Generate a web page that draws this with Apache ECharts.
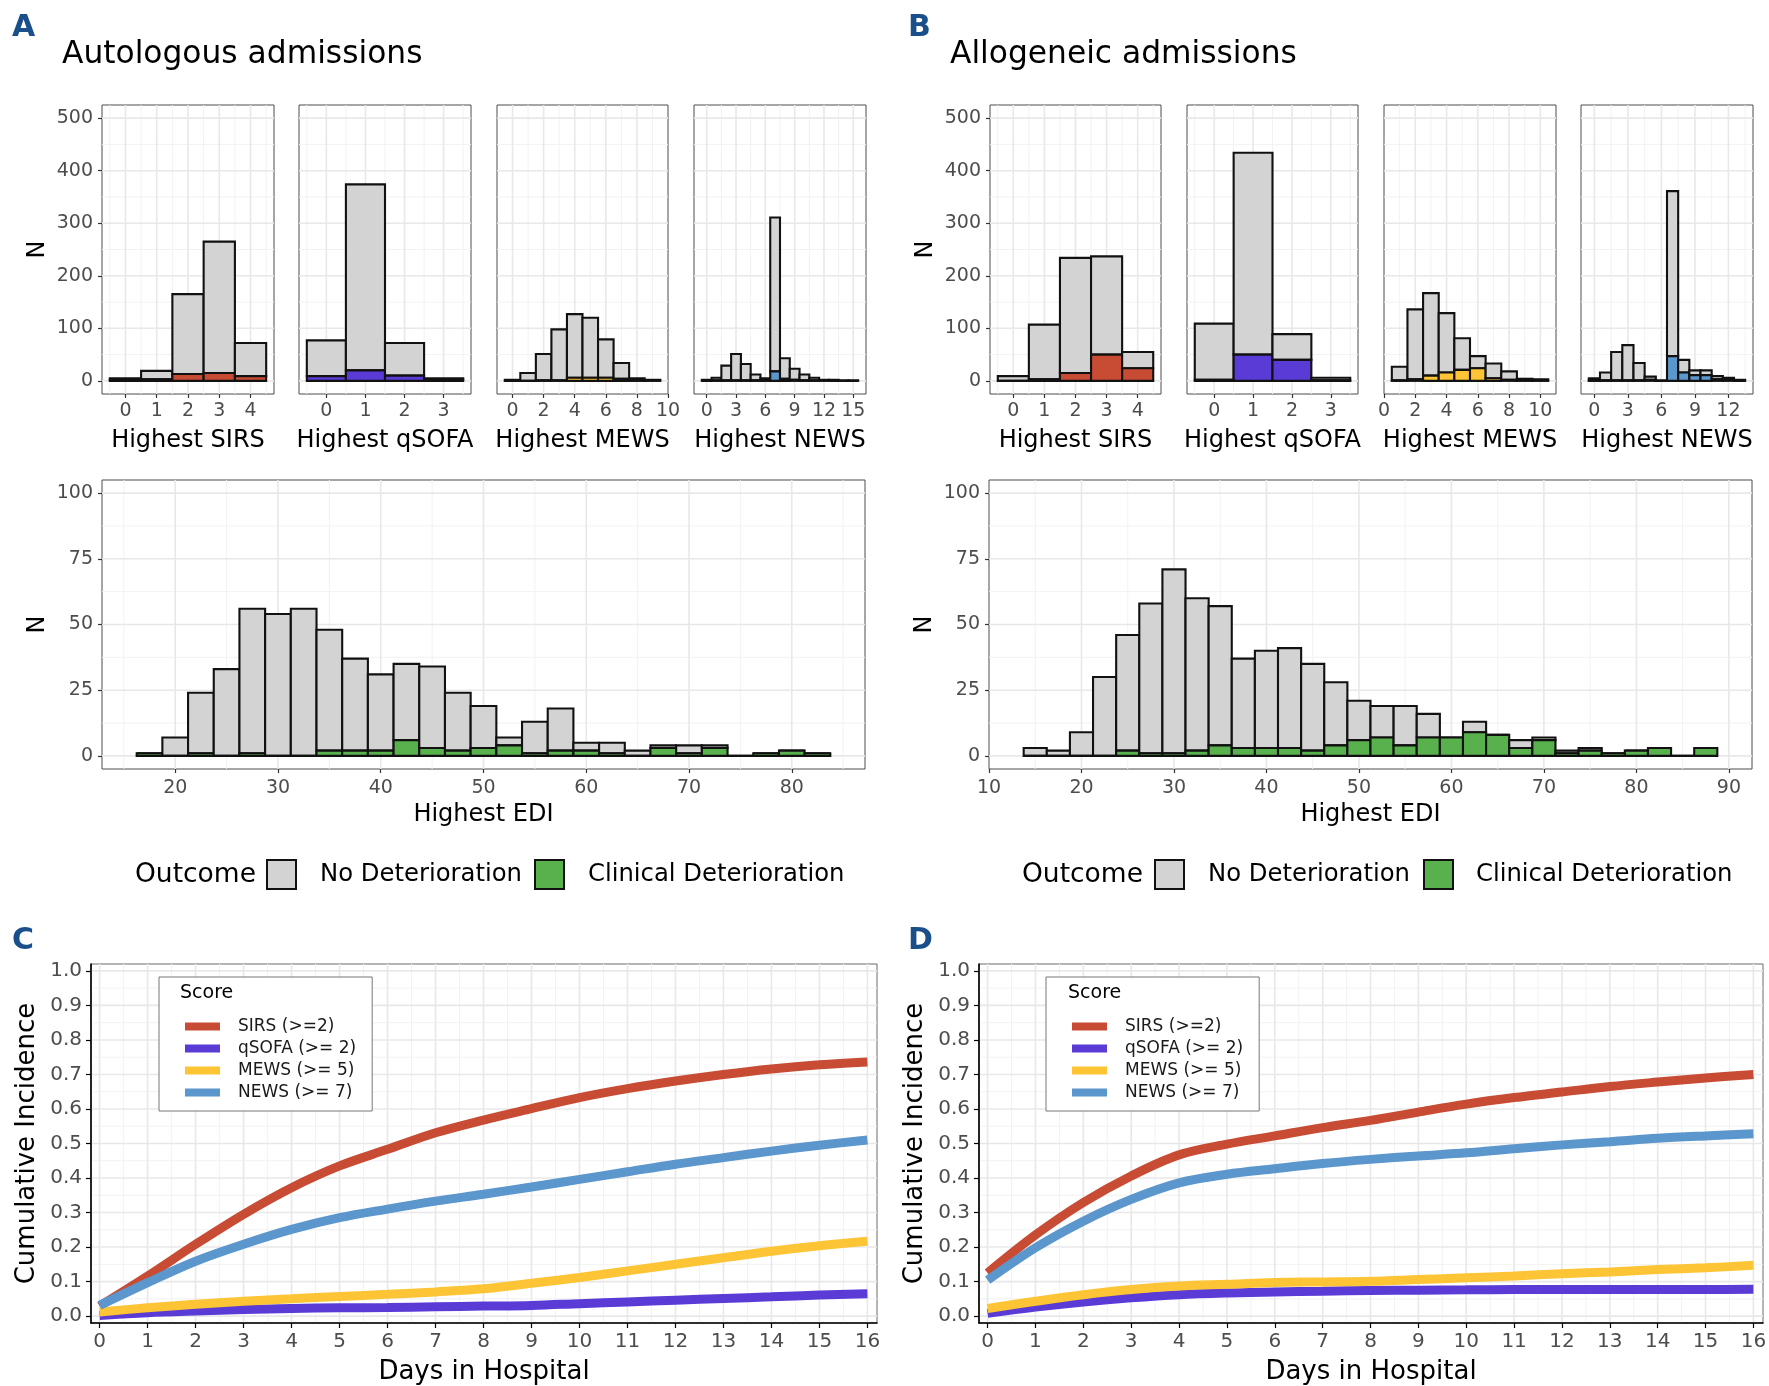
<!DOCTYPE html>
<html lang="en">
<head>
<meta charset="UTF-8">
<title>Early warning scores and clinical deterioration</title>
<style>
    html, body { margin: 0; padding: 0; background: #fff; }
    #main { width: 1769px; height: 1386px; }
</style>
</head>
<body>
<div id="main"></div>
<script src="https://cdn.jsdelivr.net/npm/echarts@6/dist/echarts.min.js"></script>
<script type="text/javascript">
// ---- score histograms: bin centre, admissions per bin, admissions with deterioration ----
var sirsBins = [0, 1, 2, 3, 4];
var sirsAutoN = [5, 19, 165, 265, 72];
var sirsAutoDet = [2, 3, 13, 15, 9];
var sirsAlloN = [9, 107, 234, 237, 55];
var sirsAlloDet = [0, 3, 15, 50, 24];

var qsofaBins = [0, 1, 2, 3];
var qsofaAutoN = [77, 374, 72, 5];
var qsofaAutoDet = [9, 20, 10, 3];
var qsofaAlloN = [109, 434, 89, 6];
var qsofaAlloDet = [2, 50, 40, 1];

var mewsAutoBins = [0, 1, 2, 3, 4, 5, 6, 7, 8, 9];
var mewsAutoN = [2, 15, 51, 98, 127, 120, 79, 34, 5, 2];
var mewsAutoDet = [0, 0, 1, 1, 6, 6, 6, 4, 1, 1];
var mewsAlloBins = [1, 2, 3, 4, 5, 6, 7, 8, 9, 10];
var mewsAlloN = [27, 136, 167, 129, 81, 47, 33, 18, 4, 3];
var mewsAlloDet = [1, 3, 10, 16, 21, 24, 5, 2, 1, 1];

var newsAutoBins = [0, 1, 2, 3, 4, 5, 6, 7, 8, 9, 10, 11, 12, 13, 14, 15];
var newsAutoN = [2, 6, 29, 51, 32, 12, 5, 311, 43, 23, 12, 6, 2, 2, 1, 1];
var newsAutoDet = [0, 1, 1, 1, 1, 1, 1, 18, 4, 2, 1, 1, 1, 0, 0, 0];
var newsAlloBins = [0, 1, 2, 3, 4, 5, 6, 7, 8, 9, 10, 11, 12, 13];
var newsAlloN = [5, 16, 55, 68, 34, 8, 1, 361, 40, 20, 20, 9, 6, 2];
var newsAlloDet = [1, 1, 1, 1, 1, 2, 0, 47, 16, 11, 11, 3, 2, 0];

// ---- EDI histograms (bin width 2.5) ----
var ediAutoBins = [17.5, 20, 22.5, 25, 27.5, 30, 32.5, 35, 37.5, 40, 42.5, 45, 47.5, 50, 52.5,
    55, 57.5, 60, 62.5, 65, 67.5, 70, 72.5, 75, 77.5, 80, 82.5];
var ediAutoN = [1, 7, 24, 33, 56, 54, 56, 48, 37, 31, 35, 34, 24, 19, 7,
    13, 18, 5, 5, 2, 4, 4, 4, 0, 1, 2, 1];
var ediAutoDet = [1, 0, 1, 0, 1, 0, 0, 2, 2, 2, 6, 3, 2, 3, 4,
    1, 2, 2, 1, 0, 3, 1, 3, 0, 1, 2, 1];
var ediAlloBins = [15, 17.5, 20, 22.5, 25, 27.5, 30, 32.5, 35, 37.5, 40, 42.5, 45, 47.5, 50,
    52.5, 55, 57.5, 60, 62.5, 65, 67.5, 70, 72.5, 75, 77.5, 80, 82.5, 85, 87.5];
var ediAlloN = [3, 2, 9, 30, 46, 58, 71, 60, 57, 37, 40, 41, 35, 28, 21,
    19, 19, 16, 7, 13, 8, 6, 7, 2, 3, 1, 2, 3, 0, 3];
var ediAlloDet = [0, 0, 0, 0, 2, 1, 1, 2, 4, 3, 3, 3, 2, 4, 6,
    7, 4, 7, 7, 9, 8, 3, 6, 1, 2, 1, 2, 3, 0, 3];

// ---- cumulative incidence by day in hospital ----
var days = [0, 1, 2, 3, 4, 5, 6, 7, 8, 9, 10, 11, 12, 13, 14, 15, 16];
var sirsAutoCI = [0.029, 0.116, 0.208, 0.295, 0.372, 0.435, 0.483, 0.531, 0.568, 0.601, 0.633, 0.659, 0.681, 0.700, 0.716, 0.728, 0.736];
var qsofaAutoCI = [0.002, 0.010, 0.015, 0.019, 0.022, 0.024, 0.025, 0.027, 0.029, 0.031, 0.036, 0.041, 0.046, 0.051, 0.056, 0.061, 0.065];
var mewsAutoCI = [0.012, 0.024, 0.034, 0.043, 0.050, 0.057, 0.063, 0.070, 0.079, 0.095, 0.112, 0.131, 0.150, 0.169, 0.188, 0.204, 0.217];
var newsAutoCI = [0.031, 0.097, 0.159, 0.208, 0.251, 0.285, 0.310, 0.333, 0.353, 0.374, 0.396, 0.418, 0.440, 0.459, 0.478, 0.495, 0.510];
var sirsAlloCI = [0.125, 0.235, 0.329, 0.406, 0.467, 0.498, 0.522, 0.546, 0.567, 0.591, 0.614, 0.633, 0.649, 0.665, 0.678, 0.690, 0.700];
var qsofaAlloCI = [0.008, 0.026, 0.041, 0.053, 0.062, 0.067, 0.070, 0.072, 0.074, 0.075, 0.076, 0.077, 0.077, 0.077, 0.077, 0.077, 0.078];
var mewsAlloCI = [0.022, 0.043, 0.062, 0.077, 0.087, 0.092, 0.097, 0.099, 0.101, 0.106, 0.111, 0.116, 0.123, 0.128, 0.135, 0.140, 0.147];
var newsAlloCI = [0.104, 0.198, 0.275, 0.338, 0.386, 0.411, 0.427, 0.442, 0.454, 0.464, 0.473, 0.485, 0.496, 0.505, 0.515, 0.522, 0.528];

var scoreNames = ['SIRS (>=2)', 'qSOFA (>= 2)', 'MEWS (>= 5)', 'NEWS (>= 7)'];

// axis breaks
var countTicks = [0, 100, 200, 300, 400, 500];
var countMinor = [50, 150, 250, 350, 450];
var ediCountTicks = [0, 25, 50, 75, 100];
var ediCountMinor = [12.5, 37.5, 62.5, 87.5];
var ciTicks = [0, 0.1, 0.2, 0.3, 0.4, 0.5, 0.6, 0.7, 0.8, 0.9, 1.0];
var ciMinor = [0.05, 0.15, 0.25, 0.35, 0.45, 0.55, 0.65, 0.75, 0.85, 0.95];
var dayMinor = [0.5, 1.5, 2.5, 3.5, 4.5, 5.5, 6.5, 7.5, 8.5, 9.5, 10.5, 11.5, 12.5, 13.5, 14.5, 15.5];

var FONT = 'DejaVu Sans';
var RED = '#c84b34', PURPLE = '#5b3bd6', YELLOW = '#fdc535', BLUE = '#5b96cc', GREEN = '#58b14c';

var myChart = echarts.init(document.getElementById('main'));

var grids = [
    { left: 102, top: 105, width: 172, height: 289 },
    { left: 299, top: 105, width: 172, height: 289 },
    { left: 497, top: 105, width: 171, height: 289 },
    { left: 694, top: 105, width: 172, height: 289 },
    { left: 990, top: 105, width: 171, height: 289 },
    { left: 1187, top: 105, width: 171, height: 289 },
    { left: 1384, top: 105, width: 172, height: 289 },
    { left: 1581, top: 105, width: 172, height: 289 },
    { left: 102, top: 480, width: 763, height: 289 },
    { left: 989, top: 480, width: 763, height: 289 },
    { left: 91, top: 964, width: 786, height: 359 },
    { left: 979, top: 964, width: 784, height: 359 }
].map(function (g, i) {
    g.show = true;
    g.backgroundColor = '#fff';
    g.borderColor = i >= 10 ? '#6b6b6b' : '#4d4d4d';
    g.borderWidth = 1;
    g.containLabel = false;
    g.outerBoundsMode = 'none';
    return g;
});

function axis(gi, min, max, ticks, name, o) {
    return {
        type: 'value', gridIndex: gi, min: min, max: max, z: 4,
        name: name || '', nameLocation: 'middle', nameGap: o.nameGap, nameMoveOverlap: false,
        nameTextStyle: { fontFamily: FONT, fontSize: o.nameSize || 24, color: '#000' },
        axisLine: { show: !!o.line, onZero: false, lineStyle: { color: '#000', width: 1.6 } },
        axisTick: { show: o.labels !== false, customValues: ticks, length: o.tickLen || 4, lineStyle: { color: o.line ? '#000' : '#333', width: 1.2 } },
        axisLabel: { show: o.labels !== false, customValues: ticks, margin: o.margin || 8, fontFamily: FONT, fontSize: o.labelSize || 19, color: '#4d4d4d', formatter: o.fmt },
        splitLine: { show: false },
        minorSplitLine: { show: false }
    };
}

// light grid lines drawn through the axis scales
function gridSeries(gi, xMaj, xMin, yMaj, yMin) {
    return {
        type: 'custom', xAxisIndex: gi, yAxisIndex: gi, z: 1, silent: true,
        data: [[xMaj[0], yMaj[0]]],
        renderItem: function (params, api) {
            var cs = params.coordSys, kids = [];
            function vert(vals, w, c) {
                vals.forEach(function (v) {
                    var x = api.coord([v, yMaj[0]])[0];
                    if (x < cs.x + 1 || x > cs.x + cs.width - 1) return;
                    kids.push({ type: 'line', shape: { x1: x, y1: cs.y, x2: x, y2: cs.y + cs.height }, style: { stroke: c, lineWidth: w } });
                });
            }
            function horiz(vals, w, c) {
                vals.forEach(function (v) {
                    var y = api.coord([xMaj[0], v])[1];
                    if (y < cs.y + 1 || y > cs.y + cs.height - 1) return;
                    kids.push({ type: 'line', shape: { x1: cs.x, y1: y, x2: cs.x + cs.width, y2: y }, style: { stroke: c, lineWidth: w } });
                });
            }
            vert(xMin, 1, '#f2f2f2'); horiz(yMin, 1, '#f2f2f2');
            vert(xMaj, 1.6, '#e8e8e8'); horiz(yMaj, 1.6, '#e8e8e8');
            return { type: 'group', children: kids };
        }
    };
}

// stacked histogram bars: coloured deterioration part below, grey part on top
function histSeries(gi, bins, totals, det, width, color) {
    return {
        type: 'custom', xAxisIndex: gi, yAxisIndex: gi, z: 3, silent: true,
        data: bins.map(function (b, i) { return [b, det[i], totals[i]]; }),
        renderItem: function (params, api) {
            var x = api.value(0), d = api.value(1), t = api.value(2);
            var p0 = api.coord([x - width / 2, 0]);
            var p1 = api.coord([x + width / 2, d]);
            var p2 = api.coord([x + width / 2, t]);
            var w = p1[0] - p0[0];
            return {
                type: 'group', children: [
                    { type: 'rect', shape: { x: p0[0], y: p2[1], width: w, height: p1[1] - p2[1] }, style: { fill: '#d3d3d3', stroke: '#111', lineWidth: 2.1 } },
                    { type: 'rect', shape: { x: p0[0], y: p1[1], width: w, height: p0[1] - p1[1] }, style: { fill: color, stroke: '#111', lineWidth: 2.1 } }
                ]
            };
        }
    };
}

var xAxes = [], yAxes = [], series = [];

var small = [
    { bins: sirsBins, n: sirsAutoN, det: sirsAutoDet, min: -0.75, max: 4.75, ticks: [0, 1, 2, 3, 4], minor: [-0.5, 0.5, 1.5, 2.5, 3.5, 4.5], name: 'Highest SIRS', color: RED },
    { bins: qsofaBins, n: qsofaAutoN, det: qsofaAutoDet, min: -0.7, max: 3.7, ticks: [0, 1, 2, 3], minor: [-0.5, 0.5, 1.5, 2.5, 3.5], name: 'Highest qSOFA', color: PURPLE },
    { bins: mewsAutoBins, n: mewsAutoN, det: mewsAutoDet, min: -1, max: 10, ticks: [0, 2, 4, 6, 8, 10], minor: [1, 3, 5, 7, 9], name: 'Highest MEWS', color: YELLOW },
    { bins: newsAutoBins, n: newsAutoN, det: newsAutoDet, min: -1.3, max: 16.3, ticks: [0, 3, 6, 9, 12, 15], minor: [1.5, 4.5, 7.5, 10.5, 13.5], name: 'Highest NEWS', color: BLUE },
    { bins: sirsBins, n: sirsAlloN, det: sirsAlloDet, min: -0.75, max: 4.75, ticks: [0, 1, 2, 3, 4], minor: [-0.5, 0.5, 1.5, 2.5, 3.5, 4.5], name: 'Highest SIRS', color: RED },
    { bins: qsofaBins, n: qsofaAlloN, det: qsofaAlloDet, min: -0.7, max: 3.7, ticks: [0, 1, 2, 3], minor: [-0.5, 0.5, 1.5, 2.5, 3.5], name: 'Highest qSOFA', color: PURPLE },
    { bins: mewsAlloBins, n: mewsAlloN, det: mewsAlloDet, min: 0, max: 11, ticks: [0, 2, 4, 6, 8, 10], minor: [1, 3, 5, 7, 9, 11], name: 'Highest MEWS', color: YELLOW },
    { bins: newsAlloBins, n: newsAlloN, det: newsAlloDet, min: -1.2, max: 14.2, ticks: [0, 3, 6, 9, 12], minor: [1.5, 4.5, 7.5, 10.5, 13.5], name: 'Highest NEWS', color: BLUE }
];

small.forEach(function (p, gi) {
    var first = gi === 0 || gi === 4;
    xAxes.push(axis(gi, p.min, p.max, p.ticks, p.name, { nameGap: 35, margin: 8 }));
    yAxes.push(axis(gi, -25, 525, countTicks, first ? 'N' : '', { nameGap: 52, margin: 9, labels: first }));
    series.push(gridSeries(gi, p.ticks, p.minor, countTicks, countMinor));
    series.push(histSeries(gi, p.bins, p.n, p.det, 1, p.color));
});

// EDI panels
xAxes.push(axis(8, 12.875, 87.125, [20, 30, 40, 50, 60, 70, 80], 'Highest EDI', { nameGap: 34, margin: 10 }));
yAxes.push(axis(8, -5, 105, ediCountTicks, 'N', { nameGap: 52, margin: 9 }));
series.push(gridSeries(8, [20, 30, 40, 50, 60, 70, 80], [15, 25, 35, 45, 55, 65, 75, 85], ediCountTicks, ediCountMinor));
series.push(histSeries(8, ediAutoBins, ediAutoN, ediAutoDet, 2.5, GREEN));

xAxes.push(axis(9, 10, 92.5, [10, 20, 30, 40, 50, 60, 70, 80, 90], 'Highest EDI', { nameGap: 34, margin: 10 }));
yAxes.push(axis(9, -5, 105, ediCountTicks, 'N', { nameGap: 52, margin: 9 }));
series.push(gridSeries(9, [10, 20, 30, 40, 50, 60, 70, 80, 90], [15, 25, 35, 45, 55, 65, 75, 85], ediCountTicks, ediCountMinor));
series.push(histSeries(9, ediAlloBins, ediAlloN, ediAlloDet, 2.5, GREEN));

// cumulative incidence panels
var ciSets = [
    [sirsAutoCI, qsofaAutoCI, mewsAutoCI, newsAutoCI],
    [sirsAlloCI, qsofaAlloCI, mewsAlloCI, newsAlloCI]
];
var lineColors = [RED, PURPLE, YELLOW, BLUE];
[10, 11].forEach(function (gi, k) {
    xAxes.push(axis(gi, -0.18, 16.2, days, 'Days in Hospital', { nameGap: 36, margin: 9, line: true, tickLen: 5, labelSize: 20, nameSize: 26 }));
    yAxes.push(axis(gi, -0.02, 1.02, ciTicks, 'Cumulative Incidence', {
        nameGap: 51, margin: 9, line: true, tickLen: 5, labelSize: 20, nameSize: 26,
        fmt: function (v) { return v.toFixed(1); }
    }));
    series.push(gridSeries(gi, days, dayMinor, ciTicks, ciMinor));
    ciSets[k].forEach(function (vals, j) {
        series.push({
            type: 'line', name: scoreNames[j], xAxisIndex: gi, yAxisIndex: gi, z: 5,
            data: days.map(function (d, i) { return [d, vals[i]]; }),
            smooth: 0.35, showSymbol: false, silent: true,
            lineStyle: { width: 9, color: lineColors[j] },
            itemStyle: { color: lineColors[j] }
        });
    });
});

function scoreLegend(left) {
    return {
        data: scoreNames, orient: 'vertical', left: left, top: 977,
        padding: [41, 16, 10, 26], itemGap: 5, itemWidth: 35, itemHeight: 8, icon: 'rect',
        backgroundColor: '#fff', borderColor: '#777', borderWidth: 1, selectedMode: false,
        textStyle: { fontFamily: FONT, fontSize: 17, color: '#1a1a1a', lineHeight: 17, padding: [0, 0, 0, 13] }
    };
}

function txt(x, y, s, size, extra) {
    var st = { text: s, fontFamily: FONT, fontSize: size, fill: '#000', verticalAlign: 'middle', align: 'left' };
    for (var k in extra) st[k] = extra[k];
    return { type: 'text', x: x, y: y, z: 10, style: st };
}
function box(x, fill) {
    return { type: 'rect', z: 10, shape: { x: x, y: 860, width: 29, height: 29 }, style: { fill: fill, stroke: '#111', lineWidth: 2 } };
}
var letter = { fontWeight: 'bold', fill: '#1b4f8a' };

var option = {
    backgroundColor: '#fff',
    animation: false,
    grid: grids,
    xAxis: xAxes,
    yAxis: yAxes,
    legend: [scoreLegend(159), scoreLegend(1046)],
    series: series,
    graphic: [
        txt(12, 28, 'A', 30, letter),
        txt(62, 55, 'Autologous admissions', 31.3),
        txt(908, 28, 'B', 30, letter),
        txt(950, 55, 'Allogeneic admissions', 31.3),
        txt(135, 875, 'Outcome', 26.5),
        box(267, '#d3d3d3'),
        txt(320, 875, 'No Deterioration', 24.3),
        box(535, GREEN),
        txt(588, 875, 'Clinical Deterioration', 24.3),
        txt(1022, 875, 'Outcome', 26.5),
        box(1155, '#d3d3d3'),
        txt(1208, 875, 'No Deterioration', 24.3),
        box(1424, GREEN),
        txt(1476, 875, 'Clinical Deterioration', 24.3),
        txt(12, 941, 'C', 30, letter),
        txt(908, 941, 'D', 30, letter),
        txt(180, 993, 'Score', 19),
        txt(1068, 993, 'Score', 19)
    ]
};
myChart.setOption(option);
window.addEventListener('resize', function () {
    myChart.resize();
});
</script>
</body>
</html>
